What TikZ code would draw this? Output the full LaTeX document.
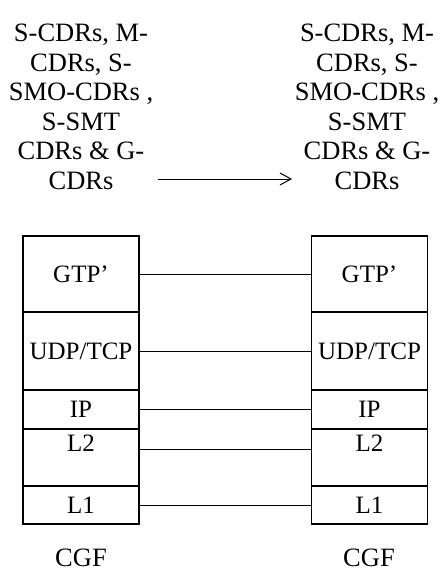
\documentclass[tikz,border=0pt]{standalone}
\usepackage{fontspec}
\setmainfont{Liberation Serif}
\usetikzlibrary{positioning}
\usetikzlibrary{arrows.meta}

\tikzset{layer/.style = {draw, rectangle, line width = 1.2bp, outer sep = 0pt, inner sep = 0pt, minimum width = 116bp, font = \fontsize{25bp}{28bp}\selectfont}}
\tikzset{cdrs/.style = {align = center, inner sep = 0pt, font = \fontsize{26.5bp}{29.5bp}\selectfont}}

\begin{document}
\begin{tikzpicture}[x = 1bp, y = -1bp]
		\useasboundingbox (0,0) rectangle (442,572);
		\node[cdrs] at (81,107) (txtl) {S-CDRs, M-\\CDRs, S-\\SMO-CDRs ,\\S-SMT\\CDRs \& G-\\CDRs};
		\node[cdrs] at (367,107) (txtr) {S-CDRs, M-\\CDRs, S-\\SMO-CDRs ,\\S-SMT\\CDRs \& G-\\CDRs};
		\coordinate (from) at (158,179);
		\coordinate (to) at (292,179);
		\draw[line width = 1bp, -{Straight Barb[length = 11bp, width = 12bp]}] (from) to (to);
		% left stack
		\node[layer, minimum height = 76bp] at (81,274) (gtpl) {GTP'};
		\node[layer, minimum height = 78bp, below = 0pt of gtpl] (udpl) {UDP/TCP};
		\node[layer, minimum height = 39bp, below = 0pt of udpl] (ipl) {IP};
		\node[layer, minimum height = 57bp, text depth = 28.5bp, below = 0pt of ipl] (ltwol) {L2};
		\node[layer, minimum height = 38bp, below = 0pt of ltwol] (lonel) {L1};
		% right stack
		\node[layer, minimum height = 76bp] at (369.5,274) (gtpr) {GTP'};
		\node[layer, minimum height = 78bp, below = 0pt of gtpr] (udpr) {UDP/TCP};
		\node[layer, minimum height = 39bp, below = 0pt of udpr] (ipr) {IP};
		\node[layer, minimum height = 57bp, text depth = 28.5bp, below = 0pt of ipr] (ltwor) {L2};
		\node[layer, minimum height = 38bp, below = 0pt of ltwor] (loner) {L1};
		\draw[line width = 0.9bp] (gtpl) to (gtpr);
		\draw[line width = 0.9bp] (udpl) to (udpr);
		\draw[line width = 0.9bp] (ipl) to (ipr);
		\draw[line width = 0.9bp] (ltwol.mid east) to (ltwor.mid west);
		\draw[line width = 0.9bp] (lonel) to (loner);
		\node[inner sep = 0pt, font = \fontsize{26.5bp}{30bp}\selectfont] at (81,558) (cgfl) {CGF};
		\node[inner sep = 0pt, font = \fontsize{26.5bp}{30bp}\selectfont] at (369,558) (cgfr) {CGF};
	\end{tikzpicture}
\end{document}
